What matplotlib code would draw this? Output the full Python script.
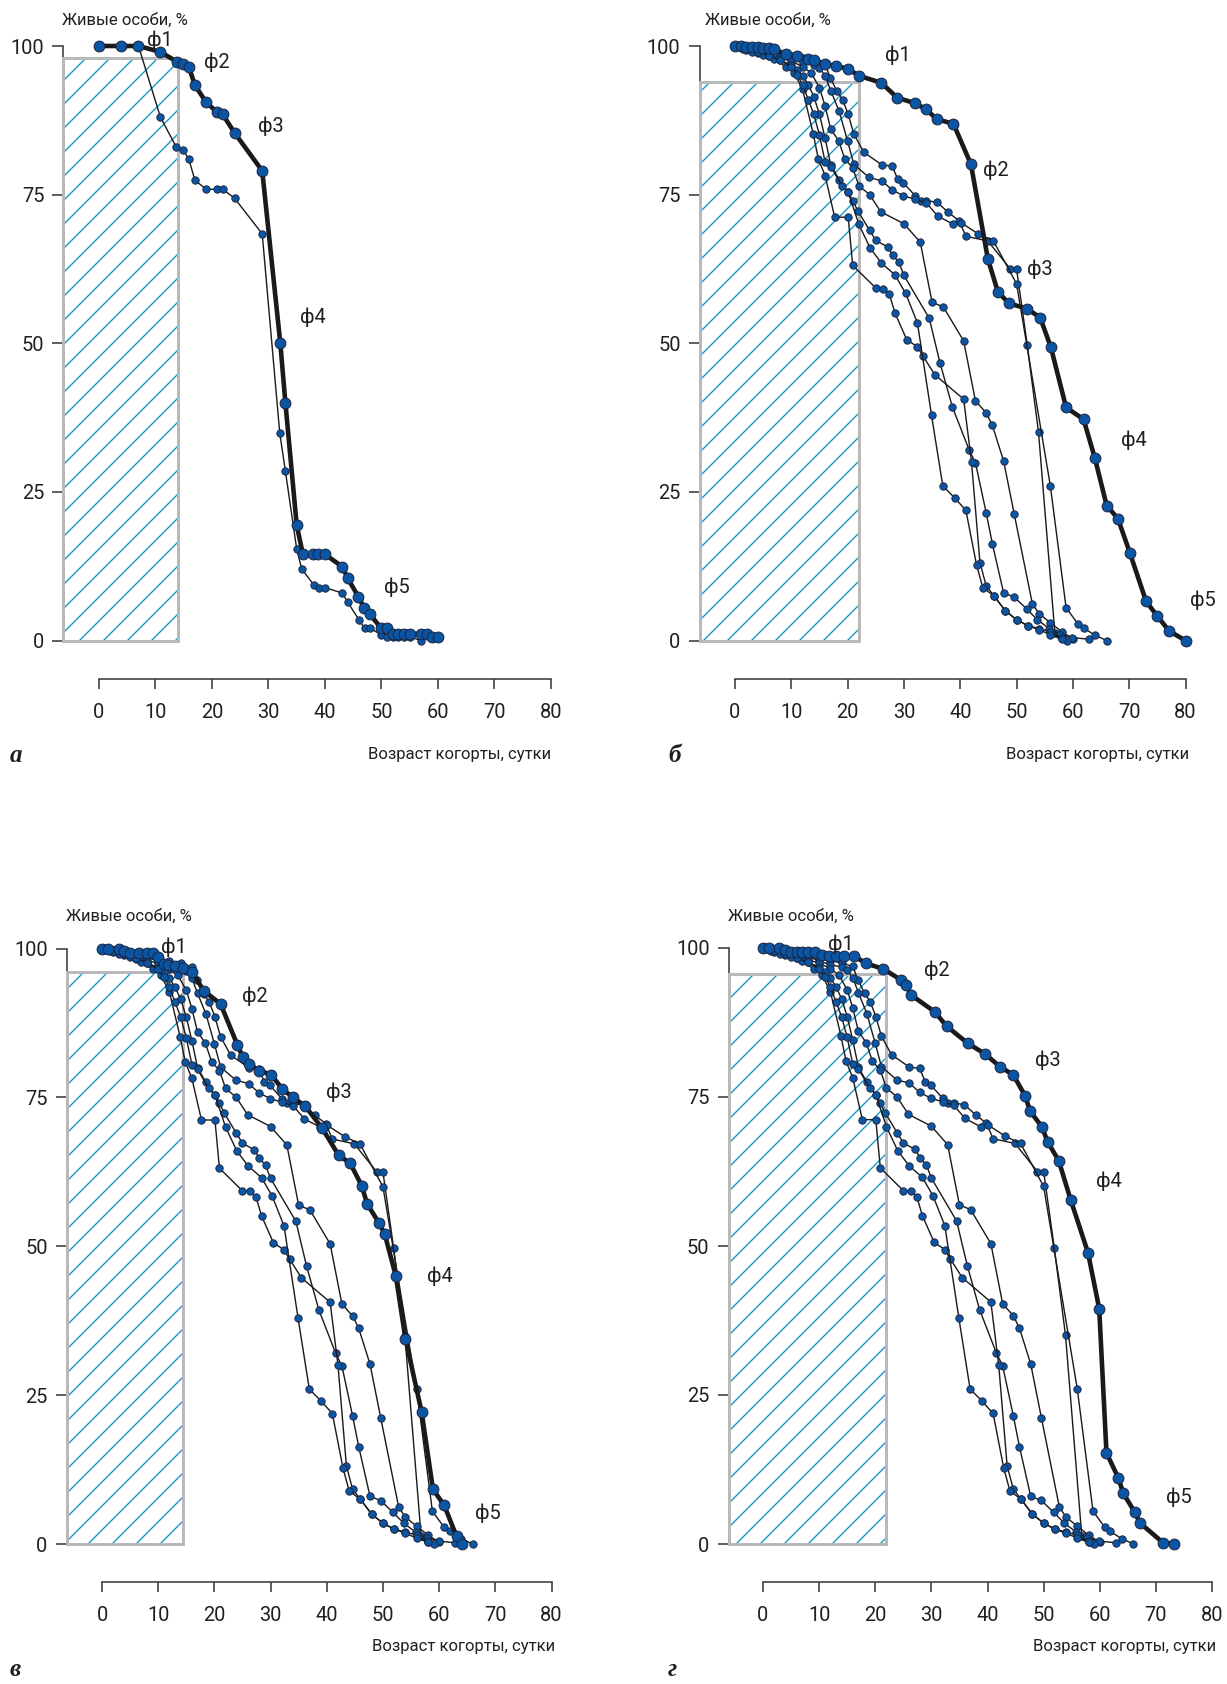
import matplotlib.pyplot as plt
from matplotlib.patches import Rectangle

W, H, DPI = 1227, 1684, 144

# ---------------- data (age of cohort, days / survivors, %) ----------------
# panel а
thick_a_x = [0, 3.9, 7, 10.9, 13.9, 14.9, 15.9, 17, 19, 20.9, 21.9, 24, 28.9, 32.1, 33, 35, 36.1,
             37.8, 38.8, 40, 43.1, 44, 45.9, 46.9, 47.9, 49.9, 50.9, 52, 53, 54, 55, 57, 58, 59, 60]
thick_a_y = [100, 100, 100, 99, 97.3, 96.9, 96.5, 93.4, 90.5, 88.9, 88.5, 85.4, 79, 50, 40, 19.4, 14.5,
             14.5, 14.5, 14.5, 12.4, 10.5, 7.4, 5.5, 4.5, 2.1, 2.1, 1.1, 1.1, 1.1, 1.1, 1.1, 1.1, 0.6, 0.6]
thin_a_x = [0, 3.9, 7, 10.9, 13.7, 14.9, 15.9, 17, 19, 20.9, 21.9, 24, 28.9, 32, 33, 35, 35.9, 38, 39,
            40, 43, 44, 46, 47, 47.9, 49.9, 50.9, 52, 53, 54, 55, 57]
thin_a_y = [100, 100, 100, 88, 83, 82.5, 81, 77.4, 75.9, 75.9, 75.9, 74.4, 68.4, 34.9, 28.5, 15.4, 12.0,
            9.4, 8.9, 8.9, 8.0, 6.5, 3.5, 2.1, 2.1, 1.0, 0.6, 0.6, 0.6, 0.6, 0.6, 0]

# thin cohorts shared by panels б, в, г
cohort1_x = [0, 1.5, 3, 4.5, 6, 8, 10, 12, 14, 16, 16.9, 18.1, 19.1, 20.1, 21.1, 22.9, 26.1, 27.9, 28.9,
             29.9, 32, 33, 34, 35.9, 37.9, 39.8, 41, 44.9, 48.9, 50, 51.9, 53.9, 56.8, 58]
cohort1_y = [100, 100, 99.8, 99.5, 99.3, 98.7, 98.3, 97.9, 97.5, 96.9, 94.7, 92.4, 91.0, 88.5, 85.2, 82.1,
             80.0, 79.8, 77.6, 77.0, 74.8, 74.0, 74.0, 73.7, 72.0, 70.6, 68.0, 67.2, 62.5, 62.5, 49.7,
             35.0, 1.3, 0.4]
cohort2_x = [0, 2, 4, 6, 8, 10, 12, 14, 15, 16, 17, 18.5, 20, 21.1, 23.8, 26.1, 27.9, 29.9, 32, 34, 36,
             38.8, 40.1, 43.2, 45.9, 50, 56, 58.8, 60.9, 61.9, 63.9, 66]
cohort2_y = [100, 99.7, 99.3, 99.0, 98.6, 97.8, 97.2, 96.8, 96.3, 95.0, 92.5, 89.0, 84.0, 80.1, 77.9,
             77.3, 75.8, 74.8, 74.2, 73.6, 71.4, 70.0, 70.3, 68.4, 67.2, 60.0, 26.0, 5.5, 2.8, 2.1, 0.9, 0]
cohort3_x = [0, 2, 4, 6, 8, 10, 12, 13.5, 15, 16, 17, 18.4, 19.5, 20.9, 22, 23.9, 25.9, 30, 32.9, 35,
             37, 40.6, 42.7, 44.6, 45.7, 47.7, 49.6, 52.8, 54, 56, 58, 60]
cohort3_y = [100, 99.6, 99.2, 98.6, 98.0, 97.5, 96.5, 95.5, 93.0, 89.9, 86, 84.1, 81, 79.5, 76.5, 75.0,
             72.1, 70.1, 67.0, 56.9, 56.1, 50.4, 40.3, 38.3, 36.2, 30.2, 21.2, 6.2, 4.5, 3.0, 1.5, 0.3]
cohort4_x = [0, 2, 4, 6, 8, 10, 11, 12, 13, 14, 15, 16, 17, 18.5, 20.1, 20.9, 21.8, 23.9, 25, 27.1, 28,
             29.1, 30, 34.5, 36.4, 38.6, 41.6, 42.7, 44.6, 45.7, 47.7, 49.6, 51.8, 53.7, 55.8, 57.8,
             59.9, 62.9]
cohort4_y = [100, 99.4, 98.9, 98.3, 97.6, 96.8, 96.0, 95.0, 93.5, 91.5, 88.5, 84.5, 80.0, 77.5, 75.4,
             74.0, 72.3, 69.0, 67.3, 66.2, 64.8, 63.6, 61.4, 54.2, 46.7, 39.3, 32.0, 29.9, 21.5, 16.3,
             8.0, 7.3, 5.3, 3.5, 2.0, 1.0, 0.5, 0.2]
cohort5_x = [0, 1.5, 3, 5, 7, 9, 10.5, 12, 13.9, 14.8, 16, 17.7, 20.1, 20.9, 25, 26.3, 27.4, 28.4, 30.5,
             32.4, 33.4, 35.5, 40.6, 42, 43.5, 44.6, 46, 48, 50, 52, 54, 56, 58, 59]
cohort5_y = [100, 99.5, 99, 98.5, 97.8, 96.5, 95.5, 92.7, 85.2, 81, 78.2, 71.2, 71.2, 63.1, 59.3, 59.2,
             58.3, 55.1, 50.6, 49.4, 47.8, 44.7, 40.6, 30, 13.1, 9.2, 7.5, 5, 3.5, 2.5, 2, 1.5, 0.5, 0]
cohort6_x = [0, 2, 4, 6, 8, 10, 11, 12, 13, 14, 15, 16, 17, 19, 20.1, 22, 24, 26, 28.4, 30.3, 32.4,
             34.9, 36.9, 39, 41, 42.9, 44, 46, 48, 50, 52, 54, 56, 58]
cohort6_y = [100, 99.5, 99.0, 98.4, 97.6, 96.5, 95.2, 93.5, 91, 88.5, 85.0, 80.5, 79.7, 76.5, 75.4, 70,
             66, 63.5, 61.5, 58.4, 53.4, 37.9, 26.0, 24.0, 21.9, 12.7, 8.9, 7.5, 5, 3.5, 2.5, 1.8,
             1.0, 0.3]
cohorts = [(cohort1_x, cohort1_y), (cohort2_x, cohort2_y), (cohort3_x, cohort3_y),
           (cohort4_x, cohort4_y), (cohort5_x, cohort5_y), (cohort6_x, cohort6_y)]

# panel б
thick_b_x = [0, 1, 2, 3, 4, 5, 6, 7, 9, 11, 13, 14, 16, 18, 20, 22, 26, 28.8, 31.9, 33.9, 35.8, 38.8,
             41.9, 44.9, 46.7, 48.7, 51.9, 54.2, 56.1, 58.8, 61.9, 63.9, 66, 68, 70.1, 73, 75, 77.1, 80]
thick_b_y = [100, 100, 99.9, 99.8, 99.8, 99.7, 99.6, 99.5, 98.6, 98.4, 97.8, 97.6, 97.0, 96.6, 96.2,
             95.0, 93.8, 91.3, 90.4, 89.4, 87.7, 86.9, 80.1, 64.2, 58.6, 56.7, 55.8, 54.3, 49.3, 39.2,
             37.2, 30.7, 22.7, 20.5, 14.8, 6.6, 4.1, 1.6, 0]
# panel в
thick_v_x = [0, 1, 3, 4, 5, 6.5, 8, 9, 10, 11.1, 11.8, 13, 14.5, 16.1, 18.1, 21.1, 24.1, 25.1, 26.1,
             28, 30.1, 32.1, 34, 36.2, 39.2, 42.1, 44.2, 46.2, 47.2, 49.3, 50.3, 52.3, 54, 56.9, 58.9,
             60.9, 63.1, 64]
thick_v_y = [100, 100, 100, 99.6, 99.3, 99.3, 99.3, 99.3, 98.5, 97.4, 97.2, 97, 96.8, 96.0, 92.9, 90.7,
             83.8, 81.7, 80.6, 79.5, 78.8, 76.4, 75, 73.5, 69.8, 65.3, 63.9, 60.2, 57.1, 53.9, 52.1,
             45.0, 34.5, 22.1, 9.2, 6.5, 1.3, 0]
# panel г
thick_g_x = [0, 1.1, 2.9, 4, 5, 6, 7, 8, 9.2, 10.5, 11.8, 13, 14.5, 16.3, 18.4, 21.4, 24.5, 25.5, 26.4,
             30.6, 32.7, 36.5, 39.6, 42.2, 44.6, 46.7, 47.6, 49.7, 50.7, 52.7, 54.8, 57.9, 59.9, 61.2,
             63.3, 64.2, 66.2, 67.2, 71.3, 73.2]
thick_g_y = [100, 100, 100, 99.7, 99.4, 99.4, 99.4, 99.4, 99.4, 98.8, 98.7, 98.7, 98.6, 98.6, 97.4,
             96.5, 94.7, 93.8, 92.1, 89.3, 86.9, 84.0, 82.2, 80.1, 78.7, 75.2, 72.6, 70.0, 67.5, 64.3,
             57.8, 48.9, 39.5, 15.3, 11.1, 8.5, 5.4, 3.5, 0.2, 0]

phase_names = ['ф1', 'ф2', 'ф3', 'ф4', 'ф5']
phases_a = [(10.8, 100.9), (20.8, 97.3), (30.5, 86.5), (37.9, 54.3), (52.8, 8.9)]
phases_b = [(29.0, 98.4), (46.4, 79.1), (54.2, 62.5), (70.9, 33.7), (83.1, 6.7)]
phases_v = [(12.8, 100.2), (27.2, 92.0), (42.1, 75.8), (60.1, 44.9), (68.7, 5.1)]
phases_g = [(13.8, 100.7), (31.0, 96.2), (50.7, 81.2), (61.7, 60.8), (74.1, 7.8)]

x_ticks = [0, 10, 20, 30, 40, 50, 60, 70, 80]
y_ticks = [0, 25, 50, 75, 100]

# ---------------- style ----------------
plt.rcParams['font.family'] = ['Roboto', 'DejaVu Sans']
TXT = '#231f20'
AXC = '#3c3c3c'
BLUE = '#0b56a4'
MEDGE = '#1b2540'
HATCH = '#1b9ac9'
BORDER = '#b9b9b9'
plt.rcParams['hatch.linewidth'] = 0.7

fig = plt.figure(figsize=(W / DPI, H / DPI), dpi=DPI)


def draw_panel(geom, rect_right, rect_top, thick, thins, phases, letter, text_pos):
    spine_px, x0_px, x80_px, y100_px, y0_px = geom
    ppd = (x80_px - x0_px) / 80.0
    xmin = (spine_px - x0_px) / ppd
    ax = fig.add_axes([spine_px / W, 1 - y0_px / H, (x80_px - spine_px) / W, (y0_px - y100_px) / H])
    ax.set_xlim(xmin, 80)
    ax.set_ylim(0, 100)
    ax.patch.set_visible(False)
    ax.spines['top'].set_visible(False)
    ax.spines['right'].set_visible(False)
    ax.spines['left'].set_bounds(0, 100)
    ax.spines['bottom'].set_bounds(0, 80)
    ax.spines['bottom'].set_position(('outward', 19))
    for s in ('left', 'bottom'):
        ax.spines[s].set_color(AXC)
        ax.spines[s].set_linewidth(0.8)
    ax.set_xticks(x_ticks)
    ax.set_yticks(y_ticks)
    ax.tick_params(axis='y', direction='out', length=5.5, width=0.8, color=AXC,
                   labelcolor=TXT, labelsize=10, pad=4)
    ax.tick_params(axis='x', direction='out', length=5, width=0.8, color=AXC,
                   labelcolor=TXT, labelsize=10, pad=7)

    # shaded interval
    ax.add_patch(Rectangle((xmin, 0), rect_right - xmin, rect_top, fill=False, hatch='//',
                           edgecolor=HATCH, lw=0, zorder=1))
    ax.add_patch(Rectangle((xmin, 0), rect_right - xmin, rect_top, fill=False,
                           edgecolor=BORDER, lw=1.5, zorder=3, clip_on=False))

    for xs, ys in thins:
        ax.plot(xs, ys, '-o', color='#1a1a1a', lw=0.7, ms=3.7, mfc=BLUE, mec=MEDGE, mew=0.45,
                clip_on=False, zorder=4)
    ax.plot(thick[0], thick[1], '-o', color='#1a1a1a', lw=2.3, ms=5.4, mfc=BLUE, mec=MEDGE,
            mew=0.5, clip_on=False, zorder=5)

    for name, (px, py) in zip(phase_names, phases):
        ax.text(px, py, name, ha='center', va='center', fontsize=10, color=TXT, zorder=6)

    ylab_x, ylab_y, xlab_x, xlab_y, let_x, let_y = text_pos
    fig.text(ylab_x / W, 1 - ylab_y / H, 'Живые особи, %', ha='left', va='center',
             fontsize=8.3, color=TXT)
    fig.text(xlab_x / W, 1 - xlab_y / H, 'Возраст когорты, сутки', ha='right', va='center',
             fontsize=8.3, color=TXT)
    fig.text(let_x / W, 1 - let_y / H, letter, ha='left', va='center', fontsize=12.5,
             family='Liberation Serif', style='italic', weight='bold', color=TXT)
    return ax


draw_panel((63.4, 98.9, 551.0, 46.0, 640.5), 14, 98, (thick_a_x, thick_a_y),
           [(thin_a_x, thin_a_y)], phases_a, 'а', (62, 20.5, 551, 754, 10, 755))
draw_panel((699.5, 735.0, 1185.5, 46.0, 640.5), 22, 94, (thick_b_x, thick_b_y),
           cohorts, phases_b, 'б', (705, 20.5, 1189, 754, 668, 755))
draw_panel((66.6, 102.0, 551.5, 948.5, 1544.0), 14.5, 96, (thick_v_x, thick_v_y),
           cohorts, phases_v, 'в', (66, 916.5, 555, 1647, 10, 1669))
draw_panel((728.5, 763.0, 1212.0, 948.0, 1544.0), 22, 95.7, (thick_g_x, thick_g_y),
           cohorts, phases_g, 'г', (728, 916.5, 1216, 1647, 668, 1669))

fig.savefig('out.png', dpi=DPI)
